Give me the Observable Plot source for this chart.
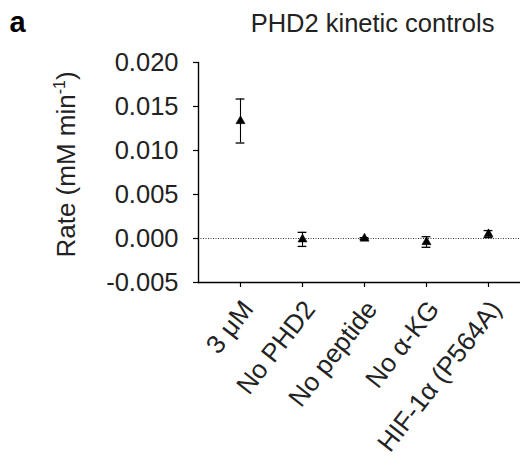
<!DOCTYPE html>
<html>
<head>
<meta charset="utf-8">
<script src="https://cdn.jsdelivr.net/npm/d3@7"></script>
<script src="https://cdn.jsdelivr.net/npm/@observablehq/plot@0.6"></script>
<style>
  html, body { margin: 0; padding: 0; background: #fff; }
  svg { font-family: "Liberation Sans", Arial, Helvetica, sans-serif; }
</style>
</head>
<body>
<div id="chart"></div>
<script>
const categories = ["3 μM", "No PHD2", "No peptide", "No α-KG", "HIF-1α (P564A)"];
const rates = [0.01335, -0.0001, 0.0000, -0.0004, 0.0005];
const errors = [0.0025, 0.0008, 0.0001, 0.0006, 0.0004];
const yTicks = [-0.005, 0.000, 0.005, 0.010, 0.015, 0.020];
const title = "PHD2 kinetic controls";
const panelLetter = "a";
const yLabel = "Rate (mM min-1)";

const data = categories.map((c, i) => ({cat: c, rate: rates[i], lo: rates[i] - errors[i], hi: rates[i] + errors[i]}));
const fmt = d3.format(".3f");
const font = 25.5;
const capInset = 26.6;

const chart = Plot.plot({
  width: 529,
  height: 468,
  marginLeft: 198,
  marginRight: 9,
  marginTop: 62,
  marginBottom: 186,
  style: {fontFamily: '"Liberation Sans", Arial, Helvetica, sans-serif', color: "#000", background: "#fff"},
  x: {type: "band", domain: categories, range: [208, 519], padding: 0, axis: null},
  y: {domain: [-0.005, 0.020], axis: null},
  marks: [
    Plot.ruleY([0], {stroke: "#000", strokeWidth: 0.8, strokeDasharray: "1,1.5"}),
    Plot.frame({anchor: "left", stroke: "#000", strokeWidth: 1.4}),
    Plot.ruleY([-0.005], {stroke: "#000", strokeWidth: 1.4}),
    Plot.axisY({ticks: yTicks, tickSize: 5, tickPadding: 15, label: null, tickFormat: d => fmt(d).replace("−", "-"), fontSize: font, fill: "#222", strokeWidth: 1.2}),
    Plot.axisX({tickSize: 5, label: null, tickFormat: () => "", strokeWidth: 1.2}),
    Plot.text(categories, {x: d => d, frameAnchor: "bottom", rotate: -52, textAnchor: "end", lineAnchor: "bottom", dx: 14, dy: 27, fontSize: 26, fill: "#222"}),
    Plot.ruleX(data, {x: "cat", y1: "lo", y2: "hi", stroke: "#000", strokeWidth: 1.1}),
    Plot.tickY(data, {x: "cat", y: "lo", insetLeft: capInset, insetRight: capInset, stroke: "#000", strokeWidth: 1.3}),
    Plot.tickY(data, {x: "cat", y: "hi", insetLeft: capInset, insetRight: capInset, stroke: "#000", strokeWidth: 1.3}),
    Plot.dot(data, {x: "cat", y: "rate", symbol: "triangle", r: 3.4, fill: "#000", stroke: "#000", strokeWidth: 0.5}),
    Plot.text([yLabel], {frameAnchor: "left", rotate: -90, textAnchor: "middle", lineAnchor: "bottom", dx: -124, dy: -8, fontSize: 26, fill: "#222", className: "ylabel"}),
    Plot.text([title], {frameAnchor: "top", textAnchor: "middle", lineAnchor: "bottom", dx: 13, dy: -31, fontSize: font, fill: "#222"}),
    Plot.text([panelLetter], {frameAnchor: "top-left", textAnchor: "start", lineAnchor: "bottom", dx: -189, dy: -31, fontSize: 29, fontWeight: "bold", fill: "#000"})
  ]
});
document.getElementById("chart").appendChild(chart);

// superscript "-1" in the y label
d3.select(chart).selectAll("g.ylabel text").each(function() {
  const t = d3.select(this);
  t.text(null);
  t.append("tspan").text("Rate (mM min");
  t.append("tspan").attr("font-size", 16).attr("dy", "-0.6em").text("-1");
  t.append("tspan").attr("dy", "0.4em").text(")");
});
</script>
</body>
</html>
